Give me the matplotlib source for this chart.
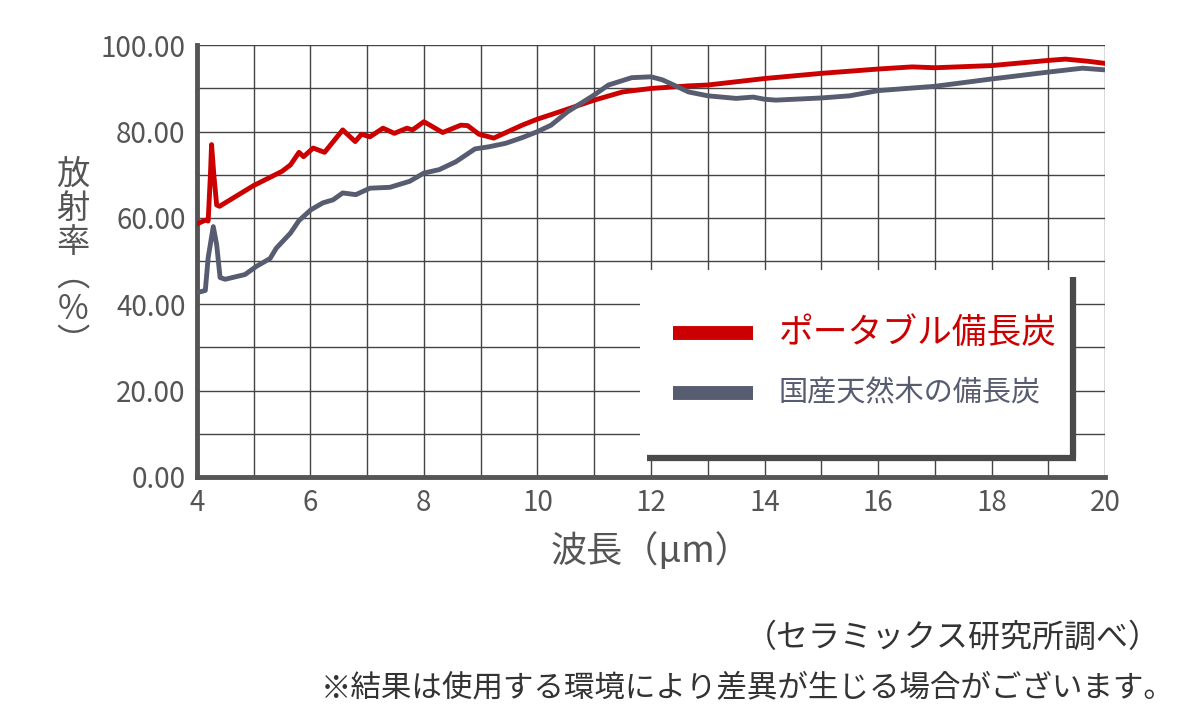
import numpy as np
import matplotlib
matplotlib.use("Agg")
import matplotlib.pyplot as plt
from matplotlib.patches import Rectangle

plt.rcParams['font.family'] = ['Noto Sans CJK JP', 'DejaVu Sans']

# portable binchotan (red)
red_x = [4.0, 4.15, 4.2, 4.24, 4.26, 4.3, 4.35, 4.4, 5.0, 5.5, 5.65, 5.8, 5.88, 6.05, 6.25,
         6.57, 6.79, 6.9, 7.05, 7.28, 7.48, 7.7, 7.8, 8.0, 8.33, 8.65, 8.77, 8.97, 9.23,
         9.73, 10.0, 10.3, 11.0, 11.5, 12.0, 12.66, 13.0, 14.0, 15.0, 16.0, 16.6, 17.0,
         18.0, 19.0, 19.3, 19.7, 20.0]
red_y = [58.6, 59.5, 59.3, 70.0, 77.0, 70.0, 63.0, 62.7, 67.5, 70.8, 72.3, 75.2, 74.2, 76.2, 75.2,
         80.4, 77.7, 79.4, 78.8, 80.8, 79.6, 80.8, 80.4, 82.3, 79.8, 81.5, 81.4, 79.4, 78.5,
         81.5, 82.9, 84.2, 87.3, 89.2, 90.0, 90.6, 90.8, 92.3, 93.5, 94.5, 95.0, 94.8,
         95.3, 96.5, 96.8, 96.3, 95.8]

# domestic natural wood binchotan (gray)
gray_x = [4.0, 4.15, 4.2, 4.29, 4.35, 4.41, 4.5, 4.85, 5.05, 5.29, 5.4, 5.65, 5.8, 6.01, 6.22,
          6.4, 6.57, 6.8, 7.05, 7.4, 7.75, 8.0, 8.27, 8.56, 8.9, 9.15, 9.44, 9.73, 10.0,
          10.24, 10.53, 11.0, 11.25, 11.66, 12.0, 12.2, 12.4, 12.66, 13.0, 13.5, 13.8, 14.0,
          14.2, 15.0, 15.5, 16.0, 17.0, 18.0, 19.0, 19.6, 20.0]
gray_y = [42.7, 43.2, 50.8, 58.0, 53.8, 46.2, 45.8, 46.9, 48.8, 50.6, 53.0, 56.5, 59.4, 61.9, 63.5,
          64.2, 65.8, 65.4, 66.9, 67.1, 68.5, 70.4, 71.2, 73.0, 76.0, 76.5, 77.3, 78.6, 80.0,
          81.5, 84.6, 88.5, 90.8, 92.5, 92.7, 92.0, 90.8, 89.2, 88.3, 87.7, 88.0, 87.5,
          87.3, 87.8, 88.3, 89.5, 90.5, 92.2, 93.8, 94.7, 94.3]

labels = ['ポータブル備長炭', '国産天然木の備長炭']
red = '#cc0000'
gray = '#575c70'
txt = '#555555'

fig = plt.figure(figsize=(12, 7.19), dpi=100)
ax = fig.add_axes([0.164, 0.3366, 0.757, 0.6004])

ax.set_xlim(4, 20)
ax.set_ylim(0, 100)
ax.set_xticks(np.arange(4, 21, 1))
ax.set_yticks(np.arange(0, 101, 10))
ax.grid(True, color='#444444', linewidth=1)
ax.set_xticklabels([str(v) if v % 2 == 0 else '' for v in range(4, 21)])
ax.set_yticklabels([f'{v:.2f}' if v % 20 == 0 else '' for v in range(0, 101, 10)])
ax.tick_params(length=0, labelsize=20, labelcolor=txt, pad=8)
for s in ['top', 'right']:
    ax.spines[s].set_visible(False)
for s in ['left', 'bottom']:
    ax.spines[s].set_color('#555555')
    ax.spines[s].set_linewidth(3.5)

ax.plot(red_x, red_y, color=red, lw=3.5, zorder=3)
ax.plot(gray_x, gray_y, color=gray, lw=3.5, zorder=3)

# legend box
ax.add_patch(Rectangle((11.8, 3.9), 19.44 - 11.8, 48 - 3.9, facecolor='white', edgecolor='none', zorder=4))
ax.plot([19.44, 19.44], [46.3, 4.4], color='#4a4a4a', lw=4.5, zorder=5, solid_capstyle='butt')
ax.plot([11.93, 19.48], [4.4, 4.4], color='#4a4a4a', lw=4.5, zorder=5, solid_capstyle='butt')
ax.plot([12.38, 13.79], [33.3, 33.3], color=red, lw=10, zorder=5, solid_capstyle='butt')
ax.plot([12.38, 13.79], [19.4, 19.4], color=gray, lw=10, zorder=5, solid_capstyle='butt')
ax.text(14.25, 33.3, labels[0], color=red, fontsize=25, va='center', zorder=6)
ax.text(14.25, 19.4, labels[1], color=gray, fontsize=21, va='center', zorder=6)

ax.set_xlabel('波長（μm）', fontsize=26, color=txt, labelpad=10)
fig.text(0.061, 0.64, '\n'.join(['放', '射', '率', '︵', '%', '︶']), fontsize=24, color=txt,
         ha='center', va='center', linespacing=0.95)

fig.text(0.967, 0.113, '（セラミックス研究所調べ）', fontsize=23, color='#333333', ha='right', va='center')
fig.text(0.979, 0.043, '※結果は使用する環境により差異が生じる場合がございます。', fontsize=22, color='#333333',
         ha='right', va='center')

fig.savefig('out.png', dpi=100)
